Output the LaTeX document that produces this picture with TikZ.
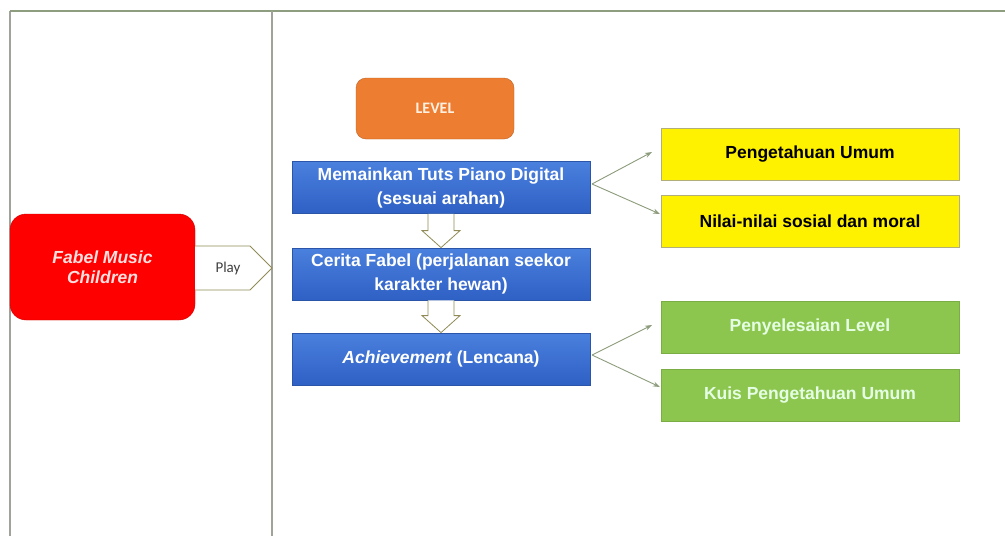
\documentclass[tikz,border=0pt]{standalone}
\usepackage{fontspec}
\setmainfont{Liberation Sans}
\newfontfamily\calib{Carlito}
\usetikzlibrary{arrows.meta,calc}
\definecolor{bluetop}{HTML}{4A80DE}
\definecolor{bluebot}{HTML}{2F60C4}
\definecolor{blueedge}{HTML}{2A55A8}
\definecolor{greenbox}{HTML}{8DC64E}
\definecolor{greenedge}{HTML}{7AAE44}
\definecolor{orangebox}{HTML}{ED7D31}
\definecolor{frameline}{HTML}{A0A39A}
\definecolor{topline}{HTML}{8E9C80}
\definecolor{conn}{HTML}{8C9C7C}
\tikzset{
  boxfont/.style={font=\bfseries\fontsize{17.5}{24}\selectfont},
  bluestep/.style={draw=blueedge,top color=bluetop,bottom color=bluebot,line width=0.8pt,minimum width=298pt,minimum height=52pt,text=white,boxfont,align=center,inner sep=0pt},
  yelbox/.style={draw=gray!70!yellow,fill=yellow,line width=0.8pt,minimum width=298pt,minimum height=52pt,text=black,boxfont,inner sep=0pt},
  grnbox/.style={draw=greenedge,fill=greenbox,line width=0.8pt,minimum width=298pt,minimum height=52pt,text=white!90!green,boxfont,inner sep=0pt},
  hollow/.style={draw=gray!60!olive,fill=white,line width=0.8pt},
  conarrow/.style={draw=conn,line width=0.9pt,-{Stealth[length=7pt,width=5pt]}}
}
\begin{document}
\begin{tikzpicture}[x=1pt,y=-1pt]
\useasboundingbox (0,0) rectangle (1005,536);
\fill[white] (0,0) rectangle (1005,536);
% frame
\draw[frameline,line width=1.4pt] (10,536) -- (10,11);
\draw[topline,line width=1.4pt] (10,11) -- (1005,11);
\draw[frameline,line width=1.4pt] (272,11) -- (272,536);
% red box
\node[draw=red!80!black,fill=red,rounded corners=16pt,minimum width=185pt,minimum height=106pt,inner sep=0pt,text=white!88!red,font=\bfseries\itshape\fontsize{17.5}{20}\selectfont,align=center] (fmc) at (102.5,267) {Fabel Music\\Children};
% play arrow
\draw[gray!60!olive,fill=white,line width=0.8pt] (195,246) -- (250,246) -- (272,268) -- (250,290) -- (195,290);
\node[text=black!75,font=\calib\fontsize{15}{17}\selectfont] (play) at (228,268) {Play};
% level
\node[draw=orangebox!80!black,fill=orangebox,rounded corners=10pt,minimum width=158pt,minimum height=61pt,inner sep=0pt,text=white!88!orange,font=\calib\bfseries\fontsize{16}{18}\selectfont] (level) at (435,108.5) {LEVEL};
% blue steps
\node[bluestep] (b1) at (441,187.5) {Memainkan Tuts Piano Digital\\(sesuai arahan)};
\node[bluestep] (b2) at (441,274) {Cerita Fabel (perjalanan seekor\\karakter hewan)};
\node[bluestep] (b3) at (441,359) {\textit{Achievement} (Lencana)};
% hollow arrows
\foreach \a/\b in {b1/b2,b2/b3}{
  \draw[hollow] ($(\a.south)+(-13,0)$) -- ($(\b.north)+(-13,-17)$) -- ($(\b.north)+(-19,-17)$) -- (\b.north) -- ($(\b.north)+(19,-17)$) -- ($(\b.north)+(13,-17)$) -- ($(\a.south)+(13,0)$);
}
% right boxes
\node[yelbox] (y1) at (810,154.5) {Pengetahuan Umum};
\node[yelbox] (y2) at (810,221.5) {Nilai-nilai sosial dan moral};
\node[grnbox] (g1) at (810,327) {Penyelesaian Level};
\node[grnbox] (g2) at (810,395) {Kuis Pengetahuan Umum};
% connectors
\coordinate (c1) at (592,184);
\coordinate (c3) at (592,355);
\coordinate (t1) at (652,152);
\coordinate (t2) at (660,214);
\coordinate (t3) at (652,325);
\coordinate (t4) at (660,387);
\draw[conarrow] (c1) -- (t1);
\draw[conarrow] (c1) -- (t2);
\draw[conarrow] (c3) -- (t3);
\draw[conarrow] (c3) -- (t4);
\end{tikzpicture}
\end{document}
